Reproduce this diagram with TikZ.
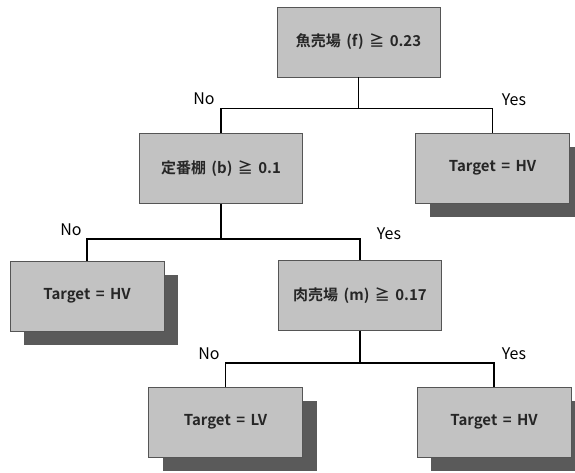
\documentclass[tikz,border=0pt]{standalone}
\usepackage{fontspec}
\setmainfont{Noto Sans CJK JP}
\newfontfamily\boxfont{Noto Sans CJK JP Bold}[WordSpace=1.6]
\usetikzlibrary{shadows}
\definecolor{boxfill}{HTML}{C2C2C2}
\definecolor{shadowc}{HTML}{5A5A5A}
\definecolor{boxline}{HTML}{555555}
\begin{document}
\begin{tikzpicture}[x=1pt,y=-1pt,
  box/.style={draw=boxline, line width=0.8pt, fill=boxfill, minimum height=70pt,
    inner sep=0pt, font=\boxfont\fontsize{15}{17}\selectfont, text=black!85},
  decision/.style={box, minimum width=163pt},
  leaf/.style={box, minimum width=154pt,
    general shadow={fill=shadowc, shadow xshift=14pt, shadow yshift=-14pt}},
  edge/.style={line width=1.5pt, black},
  lab/.style={font=\fontsize{16}{18}\selectfont, inner sep=0pt}]
\useasboundingbox[fill=white] (0,0) rectangle (575,473);
% nodes
\node[decision] (n1) at (358.5,42) {魚売場 (f) ≧ 0.23};
\node[decision] (n2) at (221,168.5) {定番棚 (b) ≧ 0.1};
\node[leaf] (n3) at (492.5,168) {Target = HV};
\node[leaf] (n4) at (87,296) {Target = HV};
\node[decision] (n5) at (360,295.5) {肉売場 (m) ≧ 0.17};
\node[leaf] (n6) at (225.5,422) {Target = LV};
\node[leaf] (n7) at (494,422) {Target = HV};
% branch points
\coordinate (b1) at (358.5,108.5);
\coordinate (b2) at (221,239);
\coordinate (b3) at (360,363);
% connectors
\draw[edge] (n1.south) -- (b1);
\draw[edge] (n2.north) |- (b1) -| (n3.north);
\draw[edge] (n2.south) -- (b2);
\draw[edge] (n4.north) |- (b2) -| (n5.north);
\draw[edge] (n5.south) -- (b3);
\draw[edge] (n6.north) |- (b3) -| (n7.north);
% labels
\node[lab] (l1) at (204,99) {No};
\node[lab] (l2) at (514,100) {Yes};
\node[lab] (l3) at (71,230) {No};
\node[lab] (l4) at (389,234) {Yes};
\node[lab] (l5) at (209,354) {No};
\node[lab] (l6) at (514,354) {Yes};
\end{tikzpicture}
\end{document}
